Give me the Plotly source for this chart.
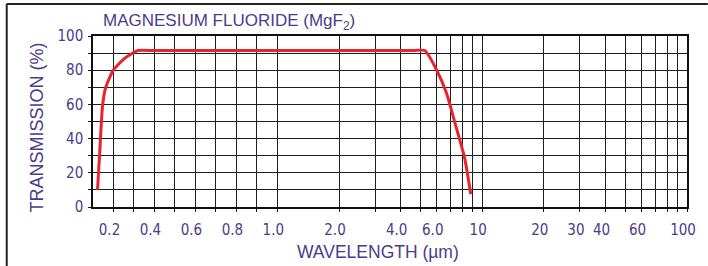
import math
import plotly.graph_objects as go

# ---- data ----
wavelength_um = [0.122, 0.127, 0.132, 0.146, 0.162, 0.199, 0.255, 0.32, 0.4, 1.0, 4.6, 5.25, 6.0, 6.7, 7.45, 8.2, 8.8]
transmission_pct = [10, 20, 30, 58.5, 70, 80, 87, 91.5, 91.5, 91.5, 91.5, 91.5, 80, 66.5, 47, 29, 7.5]

x_tick_values = [0.2, 0.3, 0.4, 0.5, 0.6, 0.7, 0.8, 0.9, 1.0,
                 2, 3, 4, 5, 6, 7, 8, 9, 10,
                 20, 30, 40, 50, 60, 70, 80, 90, 100]
x_tick_labels = ["0.2", "", "0.4", "", "0.6", "", "0.8", "", "1.0",
                 "2.0", "", "4.0", "", "6.0", "", "", "", "10",
                 "20", "30", "40", "", "60", "", "", "", "100"]
y_tick_values = [0, 10, 20, 30, 40, 50, 60, 70, 80, 90, 100]
y_tick_labels = ["0", "", "20", "", "40", "", "60", "", "80", "", "100"]


# hybrid wavelength scale of the original chart: linear 0.1-1 um, logarithmic 1-100 um
def to_axis(x):
    return x - 1.0 if x <= 1.0 else math.log10(x)


W, H = 708, 266
L, R, T, B = 93, 16, 36, 59
PW, PH = W - L - R, H - T - B
TXT = "#4a3c8c"


def px(xp):
    return (xp - L) / PW


def py(yp):
    return (H - B - yp) / PH


fig = go.Figure()
fig.add_trace(go.Scatter(
    x=[to_axis(v) for v in wavelength_um], y=transmission_pct,
    mode="lines", line=dict(color="#e8242c", width=3, shape="spline", smoothing=0.5),
    hoverinfo="skip", showlegend=False))

tick_font = dict(family="Liberation Sans Narrow, DejaVu Sans Condensed, sans-serif", size=15, color=TXT)

fig.update_xaxes(
    range=[to_axis(0.1), to_axis(100)],
    tickmode="array", tickvals=[to_axis(v) for v in x_tick_values], ticktext=x_tick_labels,
    showgrid=True, gridcolor="#1e1e1e", gridwidth=1.3,
    showline=True, mirror=True, linecolor="#111", linewidth=1.5,
    ticks="outside", ticklen=3, tickcolor="#111", tickwidth=1.3,
    tickfont=tick_font, ticklabelshift=-4, ticklabelstandoff=5, zeroline=False)
fig.update_yaxes(
    range=[0, 100],
    tickmode="array", tickvals=y_tick_values, ticktext=y_tick_labels,
    showgrid=True, gridcolor="#1e1e1e", gridwidth=1.3,
    showline=True, mirror=True, linecolor="#111", linewidth=1.5,
    ticks="outside", ticklen=3, tickcolor="#111", tickwidth=1.3,
    tickfont=tick_font, ticklabelstandoff=2, zeroline=False)

title_font = dict(family="Liberation Sans, Arial, sans-serif", color=TXT)
fig.add_annotation(text="MAGNESIUM FLUORIDE (MgF<sub>2</sub>)", xref="paper", yref="paper",
                   x=px(101), y=py(22.5), xanchor="left", yanchor="middle", showarrow=False,
                   font=dict(size=17, **title_font))
fig.add_annotation(text="TRANSMISSION (%)", xref="paper", yref="paper", textangle=-90,
                   x=px(37), y=py(127), xanchor="center", yanchor="middle", showarrow=False,
                   font=dict(size=18, **title_font))
fig.add_annotation(text="WAVELENGTH (µm)", xref="paper", yref="paper",
                   x=px(380), y=py(252), xanchor="center", yanchor="middle", showarrow=False,
                   font=dict(size=17.5, **title_font))

# outer frame (top and left edges visible in the original)
fig.add_shape(type="line", xref="paper", yref="paper", x0=px(6), x1=px(W + 5), y0=py(4), y1=py(4),
              line=dict(color="#222", width=2))
fig.add_shape(type="line", xref="paper", yref="paper", x0=px(6), x1=px(6), y0=py(4), y1=py(H + 5),
              line=dict(color="#222", width=2))

fig.update_layout(width=W, height=H, margin=dict(l=L, r=R, t=T, b=B),
                  paper_bgcolor="white", plot_bgcolor="white", showlegend=False)

fig.write_html("out.html", config={"displayModeBar": False},
               post_script="document.body.style.margin='0';document.body.style.overflow='hidden';")
